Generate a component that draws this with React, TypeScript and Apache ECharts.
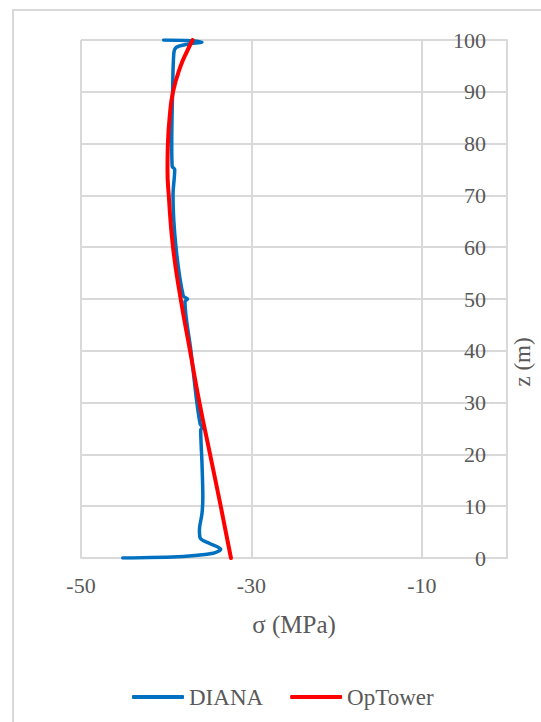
import React, { useEffect, useRef } from "react";
import * as echarts from "echarts";

const dianaSigma = [-45.1, -38.0, -34.5, -33.6, -34.9, -36.0, -36.1, -35.8, -35.7, -35.8, -35.95, -35.75, -36.0, -36.4, -37.1, -37.8, -37.5, -38.0, -38.85, -39.2, -39.0, -39.3, -39.35, -39.25, -39.1, -38.8, -37.5, -35.8, -37.5, -40.3];
const dianaZ = [0, 0.3, 0.9, 1.7, 2.8, 3.8, 5.4, 8.6, 11.8, 18.3, 24.7, 25.3, 25.8, 30, 40, 49.5, 50, 50.6, 60, 70, 75, 75.6, 80, 90, 97.5, 98.6, 99.2, 99.6, 99.9, 100];

const opTowerSigma = [-32.4, -33.6, -34.85, -36.1, -37.2, -38.3, -39.2, -39.7, -39.85, -39.8, -39.6, -39.2, -38.3, -37.5, -36.9];
const opTowerZ = [0, 10, 20, 30, 40, 50, 60, 70, 75, 80, 85, 90, 95, 98, 100];

const seriesNames = ["DIANA", "OpTower"];
const xTitle = "σ (MPa)";
const yTitle = "z (m)";

const FONT = "Liberation Serif";
const TXT = "#595959";
const GRID = "#d9d9d9";

export default function App() {
  const ref = useRef<HTMLDivElement>(null);
  useEffect(() => {
    if (!ref.current) return;
    const chart = echarts.init(ref.current, undefined, { renderer: "svg" });
    const diana = dianaSigma.map((s, i) => [s, dianaZ[i]]);
    const op = opTowerSigma.map((s, i) => [s, opTowerZ[i]]);
    chart.setOption({
      animation: false,
      backgroundColor: "#ffffff",
      grid: { left: 81, top: 40, right: 34, bottom: 164 },
      xAxis: {
        type: "value",
        min: -50,
        max: 0,
        interval: 20,
        position: "bottom",
        axisLine: { show: true, lineStyle: { color: GRID, width: 2 } },
        axisTick: { show: false },
        splitLine: { show: true, lineStyle: { color: GRID, width: 2 } },
        axisLabel: {
          color: TXT,
          fontSize: 22,
          fontFamily: FONT,
          margin: 16,
          showMaxLabel: false,
        },
      },
      yAxis: {
        type: "value",
        min: 0,
        max: 100,
        interval: 10,
        position: "right",
        axisLine: { show: true, lineStyle: { color: GRID, width: 2 } },
        axisTick: { show: false },
        splitLine: { show: true, lineStyle: { color: GRID, width: 2 } },
        axisLabel: {
          inside: true,
          color: TXT,
          fontSize: 22,
          fontFamily: FONT,
          margin: 21,
        },
      },
      legend: {
        left: 127,
        top: 678,
        icon: "roundRect",
        itemWidth: 52,
        itemHeight: 4,
        itemGap: 27,
        textStyle: { color: TXT, fontSize: 23, fontFamily: FONT, lineHeight: 28 },
        data: seriesNames,
      },
      graphic: [
        {
          type: "rect",
          shape: { x: 13, y: 10, width: 600, height: 800 },
          style: { fill: "none", stroke: GRID, lineWidth: 2 },
          silent: true,
        },
        {
          type: "text",
          x: 294,
          y: 624,
          style: {
            text: xTitle,
            fill: TXT,
            fontSize: 25,
            fontFamily: FONT,
            textAlign: "center",
            textVerticalAlign: "middle",
          },
        },
        {
          type: "text",
          x: 522,
          y: 362,
          rotation: Math.PI / 2,
          style: {
            text: yTitle,
            fill: TXT,
            fontSize: 23,
            fontFamily: FONT,
            textAlign: "center",
            textVerticalAlign: "middle",
          },
        },
      ],
      series: [
        {
          name: seriesNames[0],
          type: "line",
          data: diana,
          smooth: 0.3,
          symbol: "none",
          lineStyle: { color: "#0070C0", width: 3.5, cap: "round" },
          itemStyle: { color: "#0070C0" },
        },
        {
          name: seriesNames[1],
          type: "line",
          data: op,
          smooth: true,
          symbol: "none",
          lineStyle: { color: "#FF0000", width: 4, cap: "round" },
          itemStyle: { color: "#FF0000" },
        },
      ],
    });
    return () => chart.dispose();
  }, []);
  return (
    <div
      ref={ref}
      style={{ position: "fixed", left: 0, top: 0, width: 541, height: 722 }}
    />
  );
}
